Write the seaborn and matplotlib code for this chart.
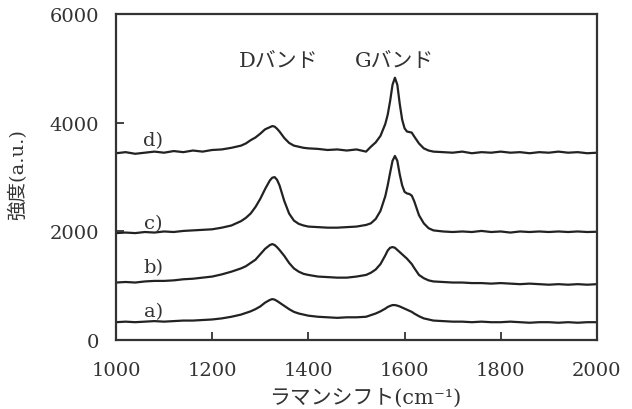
import numpy as np
import pandas as pd
import seaborn as sns
import matplotlib
matplotlib.use("Agg")
import matplotlib.pyplot as plt

# wavenumber grid (cm-1), denser around the D and G bands
shift = [1000, 1020, 1040, 1060, 1080, 1100, 1120, 1140, 1160, 1180, 1200, 1220, 1240,
         1260, 1270, 1280, 1290, 1300, 1310, 1320,
         1325, 1330, 1335, 1340,
         1350, 1360, 1370, 1380, 1390, 1400,
         1420, 1440, 1460, 1480, 1500, 1520,
         1530, 1540, 1550, 1560,
         1565, 1570, 1575, 1580, 1585, 1590, 1595, 1600, 1605, 1610, 1615, 1620,
         1630, 1640, 1650, 1660,
         1680, 1700, 1720, 1740, 1760, 1780, 1800, 1820, 1840, 1860, 1880, 1900,
         1920, 1940, 1960, 1980, 2000]

spec_a = [330, 340, 330, 340, 350, 340, 350, 360, 360, 370, 380, 400, 430,
          470, 500, 530, 570, 620, 690, 740,
          755, 745, 720, 690,
          630, 570, 520, 490, 470, 450,
          430, 420, 410, 420, 420, 430,
          460, 490, 530, 580,
          610, 630, 645, 645, 635, 620, 600, 580, 560, 540, 520, 490,
          440, 400, 380, 360,
          350, 340, 340, 330, 340, 330, 330, 340, 330, 320, 330, 330,
          320, 330, 320, 330, 330]

spec_b = [1060, 1070, 1060, 1080, 1090, 1090, 1100, 1120, 1130, 1150, 1170, 1210, 1260,
          1320, 1360, 1420, 1480, 1580, 1680, 1750,
          1768, 1750, 1710, 1660,
          1550, 1420, 1320, 1260, 1220, 1200,
          1170, 1160, 1150, 1150, 1170, 1200,
          1240, 1300, 1400, 1560,
          1650, 1700, 1713, 1700, 1660, 1620, 1580, 1540, 1500, 1450, 1400, 1330,
          1200, 1140, 1100, 1080,
          1070, 1060, 1060, 1050, 1050, 1040, 1050, 1040, 1030, 1040, 1030, 1020,
          1030, 1020, 1030, 1020, 1030]

spec_c = [1970, 1980, 1970, 1990, 1980, 2000, 1990, 2010, 2020, 2030, 2040, 2070, 2110,
          2190, 2250, 2330, 2450, 2600, 2780, 2940,
          2990, 3000, 2950, 2850,
          2560, 2330, 2200, 2140, 2110, 2090,
          2080, 2070, 2070, 2080, 2090, 2120,
          2150, 2230, 2380, 2650,
          2850, 3080, 3300, 3390, 3300, 3050, 2850, 2730, 2700, 2690, 2660, 2560,
          2300, 2150, 2060, 2020,
          2000, 1990, 2000, 1990, 2010, 1990, 2000, 1980, 2000, 1990, 2000, 1990,
          2000, 1990, 2000, 1990, 1995]

spec_d = [3440, 3460, 3430, 3450, 3470, 3450, 3480, 3460, 3490, 3470, 3500, 3510, 3540,
          3580, 3620, 3680, 3730, 3800, 3880, 3920,
          3940, 3930, 3890, 3840,
          3720, 3630, 3580, 3560, 3540, 3530,
          3520, 3500, 3510, 3490, 3510, 3470,
          3560, 3640, 3760, 3980,
          4150, 4400, 4700, 4830, 4700, 4350, 4060, 3900, 3840, 3830, 3820, 3750,
          3620, 3530, 3490, 3470,
          3460, 3450, 3470, 3440, 3460, 3450, 3470, 3450, 3460, 3440, 3460, 3450,
          3470, 3450, 3460, 3440, 3450]

curve_names = ["a)", "b)", "c)", "d)"]
curve_label_y = [535, 1345, 2155, 3680]
band_names = ["Dバンド", "Gバンド"]
band_x = [1339, 1580]

sns.set_theme(style="ticks")
plt.rcParams['font.family'] = ['DejaVu Serif', 'Noto Sans CJK JP']
plt.rcParams['axes.unicode_minus'] = False

fig = plt.figure(figsize=(6.32, 4.10), dpi=100)
ax = fig.add_axes([0.1835, 0.168, 0.761, 0.795])

line_col = "#222222"
for spec in [spec_a, spec_b, spec_c, spec_d]:
    df = pd.DataFrame({"shift": shift, "intensity": spec})
    sns.lineplot(data=df, x="shift", y="intensity", color=line_col, linewidth=1.6, ax=ax)

for name, yy in zip(curve_names, curve_label_y):
    ax.text(1078, yy, name, ha="center", va="center", fontsize=14, color="#333333")
for name, xx in zip(band_names, band_x):
    ax.text(xx, 5140, name, ha="center", va="center", fontsize=15, color="#333333")

ax.set_xlim(1000, 2000)
ax.set_ylim(0, 6000)
ax.set_xticks([1000, 1200, 1400, 1600, 1800, 2000])
ax.set_yticks([0, 2000, 4000, 6000])
ax.tick_params(direction="in", length=6, width=1.3, color="#333333",
               labelsize=14, labelcolor="#333333")
ax.tick_params(axis="y", pad=12)
ax.tick_params(axis="x", pad=15)
for sp in ax.spines.values():
    sp.set_linewidth(1.6)
    sp.set_color("#333333")

ax.set_xlabel("ラマンシフト(cm⁻¹)", fontsize=15, color="#333333")
ax.xaxis.set_label_coords(0.518, -0.145)
ax.set_ylabel("強度(a.u.)", fontsize=14, color="#333333")
ax.yaxis.set_label_coords(-0.185, 0.51)

fig.savefig("out.png", dpi=100)
